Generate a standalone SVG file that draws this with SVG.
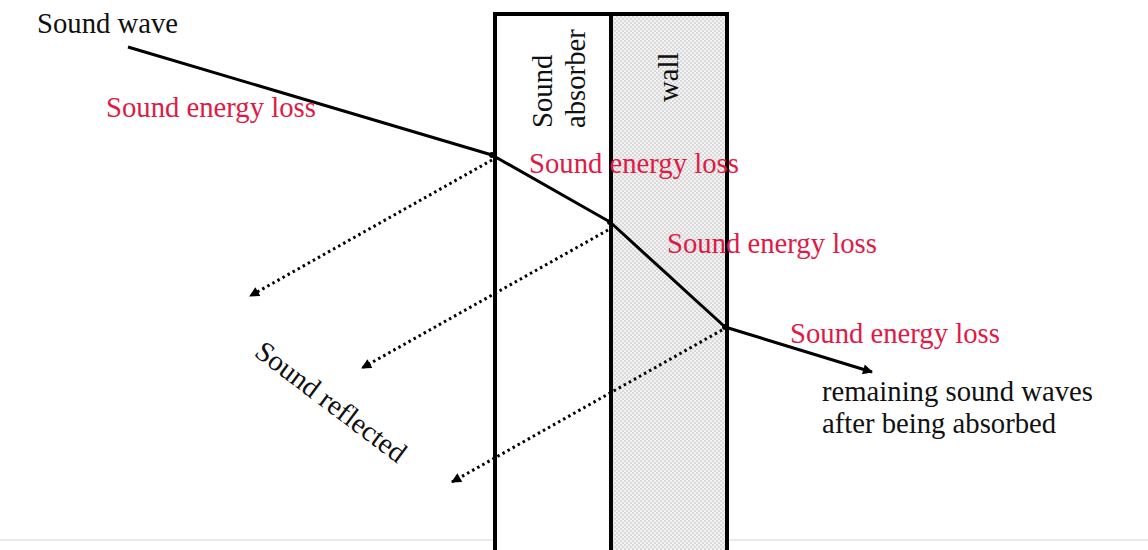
<svg xmlns="http://www.w3.org/2000/svg" width="1148" height="550" viewBox="0 0 1148 550">
  <style>
    text { font-family: "Liberation Serif", "Times New Roman", serif; font-size: 28.7px; }
    .blk { fill: #111111; }
    .red { fill: #e01a46; }
    .frame { fill: none; stroke: #000000; stroke-width: 4; }
    .wave { fill: none; stroke: #000000; stroke-width: 3; stroke-linejoin: round; }
    .refl { fill: none; stroke: #000000; stroke-width: 3; stroke-dasharray: 2.5 3.3; }
  </style>
  <defs>
    <pattern id="checker" x="0" y="0" width="4" height="4" patternUnits="userSpaceOnUse">
      <rect width="4" height="4" fill="#f3f3f3"/>
      <rect x="0" y="0" width="2" height="2" fill="#d9d9d9"/>
      <rect x="2" y="2" width="2" height="2" fill="#d9d9d9"/>
    </pattern>
    <marker id="arrow" viewBox="0 0 10 10" refX="9" refY="5" markerWidth="12" markerHeight="10" markerUnits="userSpaceOnUse" orient="auto">
      <path d="M0,0 L10,5 L0,10 Z" fill="#000000"/>
    </marker>
  </defs>

  <rect width="1148" height="550" fill="#ffffff"/>
  <line x1="0" y1="540" x2="1148" y2="540" stroke="#ebebeb" stroke-width="2"/>

  <g id="wall">
    <rect x="611" y="14" width="116" height="540" fill="url(#checker)"/>
    <text class="blk" transform="translate(678,102) rotate(-90)">wall</text>
  </g>

  <g id="sound-absorber">
    <rect x="495" y="14" width="116" height="540" fill="#ffffff"/>
    <text class="blk" transform="translate(552,128) rotate(-90)">Sound</text>
    <text class="blk" transform="translate(585,128) rotate(-90)">absorber</text>
  </g>

  <g id="frame">
    <rect class="frame" x="495" y="14" width="232" height="545"/>
    <line class="frame" x1="611" y1="14" x2="611" y2="555"/>
  </g>

  <g id="connectors">
    <polyline class="wave" points="128,47 492,155 610,222 725,327 872,372" marker-end="url(#arrow)"/>
    <circle cx="492" cy="155" r="3" fill="#000"/>
    <circle cx="610" cy="222" r="3" fill="#000"/>
    <circle cx="725" cy="327" r="3" fill="#000"/>
    <line class="refl" x1="492" y1="160" x2="250" y2="296" marker-end="url(#arrow)"/>
    <line class="refl" x1="608" y1="230" x2="362" y2="368" marker-end="url(#arrow)"/>
    <line class="refl" x1="722" y1="330" x2="452" y2="482" marker-end="url(#arrow)"/>
  </g>

  <g id="label-sound-wave">
    <text class="blk" x="37" y="33">Sound wave</text>
  </g>
  <g id="label-loss-1">
    <text class="red" x="106" y="117">Sound energy loss</text>
  </g>
  <g id="label-loss-2">
    <text class="red" x="529" y="173">Sound energy loss</text>
  </g>
  <g id="label-loss-3">
    <text class="red" x="667" y="253">Sound energy loss</text>
  </g>
  <g id="label-loss-4">
    <text class="red" x="790" y="343">Sound energy loss</text>
  </g>
  <g id="label-reflected">
    <text class="blk" transform="translate(253,355) rotate(37)">Sound reflected</text>
  </g>
  <g id="label-remaining">
    <text class="blk" x="822" y="401">remaining sound waves</text>
    <text class="blk" x="822" y="433">after being absorbed</text>
  </g>
</svg>
